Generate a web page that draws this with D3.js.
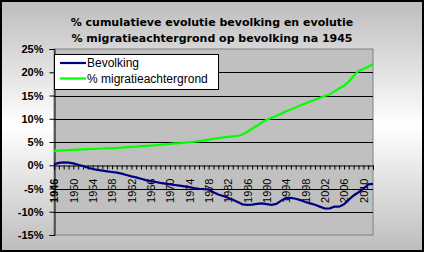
<!DOCTYPE html>
<html>
<head>
<meta charset="utf-8">
<script src="https://cdn.jsdelivr.net/npm/d3@7"></script>
<style>
  body { margin: 0; padding: 0; }
  svg { display: block; }
</style>
</head>
<body>
<script>
// years 1946..2012
var years = d3.range(1946, 2013);

var bevolking = [
  0.2, 0.5, 0.6, 0.55, 0.4, 0.1, -0.15, -0.5, -0.8, -1.0,
  -1.15, -1.3, -1.45, -1.6, -1.8, -2.1, -2.4, -2.6, -2.9, -3.2,
  -3.4, -3.6, -3.8, -3.95, -4.1, -4.25, -4.4, -4.55, -4.7, -4.9,
  -5.05, -5.15, -5.2, -5.8, -6.3, -6.6, -7.0, -7.4, -7.9, -8.4,
  -8.5, -8.45, -8.3, -8.2, -8.35, -8.5, -8.3, -7.6, -7.0, -7.0,
  -7.2, -7.5, -7.9, -8.2, -8.5, -8.9, -9.3, -9.3, -8.9, -8.9,
  -8.4, -7.4, -6.5, -5.8, -5.1, -4.1, -4.0
];

var migratie = [
  3.1, 3.15, 3.2, 3.25, 3.3, 3.35, 3.4, 3.45, 3.5, 3.55,
  3.6, 3.65, 3.7, 3.75, 3.8, 3.9, 3.95, 4.0, 4.1, 4.15,
  4.2, 4.3, 4.4, 4.5, 4.6, 4.7, 4.75, 4.85, 4.95, 5.05,
  5.2, 5.35, 5.5, 5.7, 5.85, 6.0, 6.1, 6.2, 6.35, 6.6,
  7.2, 7.9, 8.5, 9.2, 9.8, 10.2, 10.6, 11.1, 11.6, 12.0,
  12.4, 12.9, 13.3, 13.7, 14.1, 14.5, 14.9, 15.2, 15.9, 16.5,
  17.1, 18.0, 19.2, 20.3, 20.7, 21.2, 21.8
];

var yTicks = [25, 20, 15, 10, 5, 0, -5, -10, -15];
var xLabelYears = d3.range(1946, 2011, 4);

var series = [
  { name: "Bevolking", values: bevolking, color: "#000080" },
  { name: "% migratieachtergrond", values: migratie, color: "#00ff00" }
];

var W = 425, H = 253;
var plot = { left: 54, right: 373, top: 49, bottom: 235 };

var svg = d3.select("body").append("svg")
    .attr("width", W)
    .attr("height", H);

var grad = svg.append("defs").append("linearGradient")
    .attr("id", "bg")
    .attr("x1", 0).attr("y1", 0).attr("x2", 0).attr("y2", 1);
grad.append("stop").attr("offset", "0%").attr("stop-color", "#bdbdbd");
grad.append("stop").attr("offset", "50%").attr("stop-color", "#ffffff");
grad.append("stop").attr("offset", "100%").attr("stop-color", "#bdbdbd");

svg.append("rect")
    .attr("x", 1).attr("y", 1)
    .attr("width", W - 3).attr("height", H - 3)
    .attr("fill", "url(#bg)")
    .attr("stroke", "#000")
    .attr("stroke-width", 2);

var x = d3.scalePoint()
    .domain(years)
    .range([plot.left, plot.right]);

var y = d3.scaleLinear()
    .domain([-15, 25])
    .range([plot.bottom, plot.top]);

// plot area
svg.append("rect")
    .attr("x", plot.left).attr("y", plot.top)
    .attr("width", plot.right - plot.left)
    .attr("height", plot.bottom - plot.top)
    .attr("fill", "#c0c0c0")
    .attr("stroke", "#808080")
    .attr("stroke-width", 1);

// gridlines
svg.append("g")
    .selectAll("line")
    .data(yTicks.filter(function(d) { return d !== 25 && d !== -15 && d !== 0; }))
    .enter()
    .append("line")
    .attr("x1", plot.left).attr("x2", plot.right)
    .attr("y1", function(d) { return Math.round(y(d)) + 0.5; })
    .attr("y2", function(d) { return Math.round(y(d)) + 0.5; })
    .attr("stroke", "#000")
    .attr("stroke-width", 1);

// y axis
var yAxis = svg.append("g")
    .attr("transform", "translate(" + (plot.left + 0.5) + ",0)")
    .call(d3.axisLeft(y).tickValues(yTicks).tickSize(5).tickPadding(6)
        .tickFormat(function(d) { return d + "%"; }));
yAxis.select(".domain").attr("stroke", "#000");
yAxis.selectAll("text")
    .attr("font-family", "Liberation Sans, Arial, sans-serif")
    .attr("font-weight", "bold")
    .attr("font-size", 11)
    .attr("fill", "#000");

// x axis at 0%
var xAxis = svg.append("g")
    .attr("transform", "translate(0," + (Math.round(y(0)) + 0.5) + ")")
    .call(d3.axisBottom(x).tickSizeOuter(0).tickSize(4)
        .tickFormat(function(d) { return xLabelYears.indexOf(d) >= 0 ? d : ""; }));
xAxis.select(".domain").attr("stroke", "#000");
xAxis.selectAll("text")
    .attr("font-family", "Liberation Sans, Arial, sans-serif")
    .attr("font-size", 11)
    .attr("fill", "#000")
    .attr("text-anchor", "end")
    .attr("transform", "rotate(-90)")
    .attr("x", -13)
    .attr("y", 0)
    .attr("dy", "0.35em")
    .attr("font-weight", function(d) { return d === 1946 ? "bold" : "normal"; });

// lines
var line = d3.line()
    .x(function(d, i) { return x(years[i]); })
    .y(function(d) { return y(d); });

svg.append("g")
    .selectAll("path")
    .data(series)
    .enter()
    .append("path")
    .attr("d", function(d) { return line(d.values); })
    .attr("fill", "none")
    .attr("stroke", function(d) { return d.color; })
    .attr("stroke-width", 2.2);

// legend
var legend = svg.append("g");
legend.append("rect")
    .attr("x", 54.5).attr("y", 54.5)
    .attr("width", 164).attr("height", 35)
    .attr("fill", "#fff")
    .attr("stroke", "#000");

var items = legend.selectAll("g.item")
    .data(series)
    .enter()
    .append("g")
    .attr("class", "item")
    .attr("transform", function(d, i) { return "translate(0," + (63 + i * 15.5) + ")"; });
items.append("line")
    .attr("x1", 60).attr("x2", 86)
    .attr("stroke", function(d) { return d.color; })
    .attr("stroke-width", 2.2);
items.append("text")
    .attr("x", 87)
    .attr("dy", "0.36em")
    .attr("font-family", "Liberation Sans, Arial, sans-serif")
    .attr("font-size", 12)
    .text(function(d) { return d.name; });

// title
svg.append("g")
    .selectAll("text")
    .data(["% cumulatieve evolutie bevolking en evolutie", "% migratieachtergrond op bevolking na 1945"])
    .enter()
    .append("text")
    .attr("x", 212)
    .attr("y", function(d, i) { return 26 + i * 16; })
    .attr("text-anchor", "middle")
    .attr("font-family", "DejaVu Sans, Verdana, sans-serif")
    .attr("font-weight", "bold")
    .attr("font-size", 11)
    .text(function(d) { return d; });
</script>
</body>
</html>
